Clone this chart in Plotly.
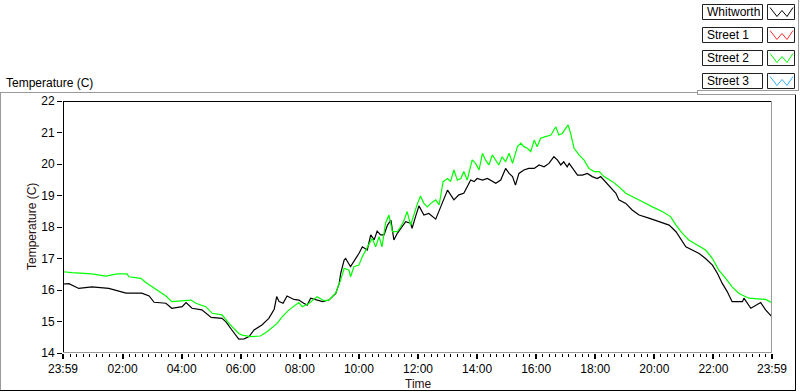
import plotly.graph_objects as go

# ---------------- data ----------------
series_names = ["Whitworth", "Street 1", "Street 2", "Street 3"]
series_colors = ["#000000", "#ff3030", "#00ff00", "#30b0ff"]

whitworth_time = [
    "23:59", "00:11", "00:31", "00:58", "01:32", "01:59", "02:07", "02:39", "02:54", "03:04",
    "03:28", "03:40", "04:01", "04:09", "04:21", "04:41", "04:49", "05:00", "05:22", "05:30",
    "05:42", "05:56", "06:07", "06:17", "06:27", "06:43", "06:57", "07:08", "07:13", "07:18",
    "07:26", "07:34", "07:48", "07:58", "08:08", "08:15", "08:22", "08:32", "08:46", "08:59",
    "09:13", "09:20", "09:23", "09:30", "09:33", "09:43", "09:50", "10:00", "10:07", "10:17",
    "10:24", "10:31", "10:37", "10:44", "10:51", "10:58", "11:05", "11:11", "11:18", "11:28",
    "11:35", "11:45", "11:48", "11:55", "12:02", "12:12", "12:22", "12:36", "12:43", "12:49",
    "13:00", "13:06", "13:13", "13:23", "13:33", "13:40", "13:47", "13:54", "14:00", "14:11",
    "14:21", "14:38", "14:48", "14:58", "15:05", "15:12", "15:18", "15:25", "15:35", "15:45",
    "15:56", "16:06", "16:16", "16:26", "16:36", "16:43", "16:50", "16:56", "17:03", "17:07",
    "17:17", "17:24", "17:34", "17:44", "17:54", "18:04", "18:11", "18:21", "18:31", "18:42",
    "18:48", "19:02", "19:15", "19:29", "19:49", "20:10", "20:30", "20:44", "20:54", "21:04",
    "21:17", "21:31", "21:44", "21:58", "22:08", "22:18", "22:28", "22:38", "22:59", "23:02",
    "23:16", "23:26", "23:36", "23:46", "23:59",
]
whitworth_temp = [
    16.19, 16.20, 16.05, 16.10, 16.05, 15.95, 15.90, 15.90, 15.81, 15.61,
    15.58, 15.42, 15.47, 15.60, 15.42, 15.37, 15.26, 15.13, 15.10, 14.99,
    14.73, 14.44, 14.45, 14.52, 14.73, 14.89, 15.10, 15.39, 15.79, 15.63,
    15.58, 15.81, 15.70, 15.68, 15.58, 15.52, 15.74, 15.70, 15.63, 15.68,
    15.89, 16.21, 16.53, 16.95, 17.00, 16.74, 16.90, 17.16, 17.37, 17.27,
    17.75, 17.59, 17.87, 17.75, 17.75, 18.06, 18.22, 17.59, 17.80, 18.01,
    18.17, 18.12, 17.96, 18.33, 18.67, 18.38, 18.43, 18.25, 18.49, 18.75,
    19.17, 19.02, 18.86, 19.02, 19.07, 19.28, 19.49, 19.44, 19.54, 19.49,
    19.54, 19.39, 19.49, 19.86, 19.70, 19.60, 19.33, 19.70, 19.81, 19.86,
    19.86, 19.97, 19.91, 20.02, 20.23, 20.13, 19.97, 20.07, 19.91, 20.02,
    19.81, 19.65, 19.65, 19.70, 19.60, 19.54, 19.60, 19.44, 19.28, 19.07,
    18.86, 18.75, 18.54, 18.38, 18.28, 18.17, 18.06, 17.85, 17.59, 17.37,
    17.27, 17.16, 17.00, 16.79, 16.53, 16.21, 15.95, 15.63, 15.63, 15.74,
    15.42, 15.52, 15.60, 15.37, 15.15,
]

street1_time = []
street1_temp = []

street2_time = [
    "23:59", "00:17", "00:58", "01:26", "01:49", "02:09", "02:13", "02:37", "02:48", "03:08",
    "03:28", "03:40", "04:01", "04:19", "04:29", "04:49", "05:02", "05:22", "05:36", "05:50",
    "05:56", "06:03", "06:10", "06:20", "06:40", "06:54", "07:14", "07:24", "07:38", "07:52",
    "07:58", "08:05", "08:19", "08:35", "08:49", "08:59", "09:13", "09:23", "09:30", "09:40",
    "09:43", "09:50", "10:00", "10:07", "10:14", "10:20", "10:27", "10:34", "10:41", "10:47",
    "10:54", "11:01", "11:08", "11:18", "11:25", "11:32", "11:38", "11:45", "11:52", "11:59",
    "12:05", "12:12", "12:19", "12:26", "12:36", "12:43", "12:51", "13:00", "13:06", "13:13",
    "13:20", "13:27", "13:33", "13:40", "13:50", "13:57", "14:04", "14:11", "14:17", "14:24",
    "14:31", "14:38", "14:44", "14:51", "14:58", "15:05", "15:12", "15:22", "15:29", "15:35",
    "15:42", "15:49", "15:56", "16:02", "16:09", "16:19", "16:30", "16:36", "16:40", "16:46",
    "16:53", "17:00", "17:05", "17:10", "17:17", "17:27", "17:37", "17:47", "17:58", "18:08",
    "18:18", "18:35", "18:48", "19:02", "19:15", "19:36", "19:56", "20:16", "20:33", "20:44",
    "20:57", "21:10", "21:27", "21:44", "21:58", "22:11", "22:25", "22:38", "22:52", "23:12",
    "23:46", "23:59",
]
street2_temp = [
    16.58, 16.55, 16.51, 16.44, 16.51, 16.51, 16.42, 16.37, 16.23, 16.02,
    15.81, 15.63, 15.66, 15.68, 15.58, 15.47, 15.26, 15.21, 14.94, 14.73,
    14.62, 14.57, 14.54, 14.52, 14.54, 14.68, 14.94, 15.15, 15.37, 15.52,
    15.60, 15.47, 15.58, 15.79, 15.66, 15.68, 15.91, 16.32, 16.69, 16.63,
    16.42, 16.74, 16.79, 17.06, 17.27, 17.43, 17.64, 17.37, 17.69, 17.37,
    18.12, 18.38, 17.85, 17.85, 18.01, 18.22, 18.49, 18.06, 18.43, 18.75,
    18.98, 18.75, 18.64, 18.75, 18.86, 18.70, 19.44, 19.54, 19.44, 19.81,
    19.49, 19.54, 19.76, 19.49, 20.13, 20.02, 19.81, 20.34, 20.13, 19.97,
    20.29, 20.13, 19.97, 20.23, 20.07, 20.34, 20.02, 20.55, 20.66, 20.55,
    20.50, 20.39, 20.76, 20.55, 20.82, 20.87, 20.92, 21.08, 21.18, 20.92,
    20.97, 21.13, 21.24, 20.97, 20.50, 20.29, 20.13, 19.86, 19.76, 19.76,
    19.60, 19.44, 19.28, 19.07, 18.96, 18.80, 18.64, 18.49, 18.33, 18.06,
    17.80, 17.59, 17.43, 17.27, 17.00, 16.63, 16.37, 16.10, 15.89, 15.74,
    15.70, 15.60,
]

street3_time = []
street3_temp = []

y_tick_values = [14, 15, 16, 17, 18, 19, 20, 21, 22]
x_tick_labels = ["23:59", "02:00", "04:00", "06:00", "08:00", "10:00", "12:00",
                 "14:00", "16:00", "18:00", "20:00", "22:00", "23:59"]

chart_label = "Temperature (C)"
y_title = "Temperature (C)"
x_title = "Time"

# ---------------- helpers ----------------
DAY0, DAY1 = "2024-01-01", "2024-01-02"


def to_dt(times):
    out = []
    for i, t in enumerate(times):
        day = DAY0 if (i == 0 and t == "23:59") else DAY1
        out.append(f"{day} {t}:00")
    return out


x_tick_vals = to_dt(x_tick_labels)

FONT = "Liberation Sans, Arial, sans-serif"
L, R, T, B = 63, 772, 101, 353
W, H = R - L, B - T


def px(x):
    return (x - L) / W


def py(y):
    return (B - y) / H


fig = go.Figure()
all_series = [
    (whitworth_time, whitworth_temp),
    (street1_time, street1_temp),
    (street2_time, street2_temp),
    (street3_time, street3_temp),
]
for name, color, (tt, vv) in zip(series_names, series_colors, all_series):
    fig.add_trace(go.Scatter(
        x=to_dt(tt), y=vv, mode="lines", name=name,
        line=dict(color=color, width=1.2), showlegend=False, hoverinfo="skip",
    ))

shapes = []


def line(x0, y0, x1, y1, color, width=1):
    shapes.append(dict(type="line", xref="paper", yref="paper",
                       x0=px(x0), y0=py(y0), x1=px(x1), y1=py(y1),
                       line=dict(color=color, width=width)))


def rect(x0, y0, x1, y1, color, fill="white"):
    shapes.append(dict(type="rect", xref="paper", yref="paper",
                       x0=px(x0), y0=py(y0), x1=px(x1), y1=py(y1),
                       line=dict(color=color, width=1), fillcolor=fill))


GRAY = "#9a9a9a"
# outer panel frame
line(0, 92.5, 697, 92.5, GRAY)
line(0.5, 92, 0.5, 391, GRAY)
line(0, 390.5, 796, 390.5, "#000000")
line(795.5, 95, 795.5, 391, "#000000")
# legend frame
line(798.5, 0, 798.5, 91, GRAY)
line(697, 90.5, 799, 90.5, GRAY)
line(697.5, 90.5, 697.5, 95, GRAY)
line(697, 94.5, 796, 94.5, GRAY)
# plot area frame
line(L, T + 0.5, R, T + 0.5, "#000000")
line(L + 0.5, T, L + 0.5, B, "#000000")
line(L, B - 0.5, R, B - 0.5, GRAY)
line(R - 0.5, T, R - 0.5, B, GRAY)

annotations = []
for i, (name, color) in enumerate(zip(series_names, series_colors)):
    y0 = 4.5 + 23 * i
    rect(702.5, y0, 762.5, y0 + 15, "#202020")
    rect(767.5, y0, 794.5, y0 + 15, "#202020")
    pts = [(770, y0 + 3), (777, y0 + 12), (782, y0 + 6), (787, y0 + 12), (793, y0 + 3)]
    path = "M " + " L ".join(f"{px(a):.5f},{py(b):.5f}" for a, b in pts)
    shapes.append(dict(type="path", xref="paper", yref="paper", path=path,
                       line=dict(color=color, width=1)))
    annotations.append(dict(text=name, xref="paper", yref="paper",
                            x=px(704.5), y=py(y0 + 7.5), xanchor="left", yanchor="middle",
                            showarrow=False, font=dict(family=FONT, size=12, color="#000000")))

annotations.append(dict(text=chart_label, xref="paper", yref="paper",
                        x=px(4), y=py(82.5), xanchor="left", yanchor="middle",
                        showarrow=False, font=dict(family=FONT, size=12, color="#000000")))
annotations.append(dict(text=y_title, xref="paper", yref="paper", textangle=-90,
                        x=px(32), y=py(227), xanchor="center", yanchor="middle",
                        showarrow=False, font=dict(family=FONT, size=12, color="#2a1010")))
annotations.append(dict(text=x_title, xref="paper", yref="paper",
                        x=px(418), y=py(383.5), xanchor="center", yanchor="middle",
                        showarrow=False, font=dict(family=FONT, size=12, color="#2a1010")))

fig.update_layout(
    width=800, height=392,
    margin=dict(l=L, r=800 - R, t=T, b=392 - B, pad=0),
    paper_bgcolor="white", plot_bgcolor="white",
    font=dict(family=FONT, size=12, color="#000000"),
    shapes=shapes, annotations=annotations,
    hovermode=False,
    xaxis=dict(
        type="date", range=[x_tick_vals[0], x_tick_vals[-1]],
        tickmode="array", tickvals=x_tick_vals, ticktext=x_tick_labels,
        ticks="outside", ticklen=5, tickwidth=2, tickcolor="#000000",
        showgrid=False, zeroline=False, showline=False,
        tickfont=dict(family=FONT, size=12, color="#000000"),
        minor=dict(ticks="outside", ticklen=3, tickwidth=1, tickcolor="#000000",
                   dtick=800000, tick0=f"{DAY1} 00:00:00", showgrid=False),
    ),
    yaxis=dict(
        range=[14, 22], tickmode="array", tickvals=y_tick_values,
        ticks="outside", ticklen=5, tickwidth=1, tickcolor="#000000",
        showgrid=False, zeroline=False, showline=False,
        tickfont=dict(family=FONT, size=12, color="#000000"),
    ),
)

fig.write_html(
    "out.html",
    config={"displayModeBar": False, "staticPlot": True},
    post_script="document.body.style.margin='0px';document.body.style.padding='0px';"
                "document.body.style.overflow='hidden';",
)
